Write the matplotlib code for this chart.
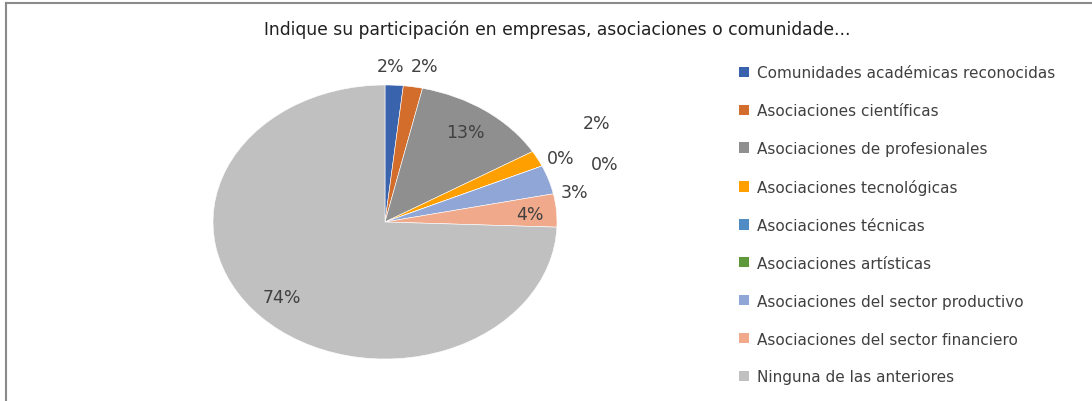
import matplotlib.pyplot as plt
from matplotlib.lines import Line2D
from matplotlib.patches import Patch

categories = ['Comunidades académicas reconocidas', 'Asociaciones científicas',
              'Asociaciones de profesionales', 'Asociaciones tecnológicas',
              'Asociaciones técnicas', 'Asociaciones artísticas',
              'Asociaciones del sector productivo', 'Asociaciones del sector financiero',
              'Ninguna de las anteriores']
values = [1.7, 1.8, 12.9, 1.9, 0, 0, 3.4, 3.9, 74.4]
colors = ['#3A63AE', '#D26D2B', '#8F8F8F', '#FFA000', '#4F8BC4',
          '#5E9A3C', '#8FA6D6', '#F0A98A', '#C0C0C0']
# label positions in pie units (radius 1), Excel-style placement
label_pos = [(0.03, 1.14), (0.23, 1.14), (0.47, 0.66), (1.23, 0.72), (1.02, 0.47),
             (1.28, 0.42), (1.10, 0.22), (0.84, 0.06), (-0.60, -0.55)]

txt = '#404040'
fig = plt.figure(figsize=(10.92, 4.02), dpi=100)

# border lines (top and left)
fig.add_artist(Line2D([6/1092, 1], [1 - 4/402, 1 - 4/402], color='#8a8a8a', lw=1.5))
fig.add_artist(Line2D([6/1092, 6/1092], [0, 1 - 4/402], color='#8a8a8a', lw=1.5))

fig.text(557/1092, 1 - 30/402, 'Indique su participación en empresas, asociaciones o comunidade...',
         ha='center', va='center', fontsize=12.3, color='#202020')

ax = fig.add_axes([213/1092, 42/402, 344/1092, 274/402])
wedges, _ = ax.pie(values, colors=colors, startangle=90, counterclock=False,
                   radius=1, center=(0, 0), frame=False,
                   wedgeprops=dict(edgecolor='white', linewidth=0.4))
ax.set_xlim(-1, 1)
ax.set_ylim(-1, 1)
ax.set_aspect('auto')

for v, (x, y) in zip(values, label_pos):
    ax.text(x, y, f'{v:.0f}%', ha='center', va='center', fontsize=12.5, color=txt, clip_on=False)

handles = [Patch(facecolor=c, edgecolor='none') for c in colors]
fig.legend(handles, categories, loc='upper left', bbox_to_anchor=(733/1092, 1 - 60/402),
           frameon=False, fontsize=11, labelcolor=txt, handlelength=0.65, handleheight=0.65,
           handletextpad=0.5, labelspacing=1.50, borderaxespad=0)

fig.savefig('out.png', dpi=100)
